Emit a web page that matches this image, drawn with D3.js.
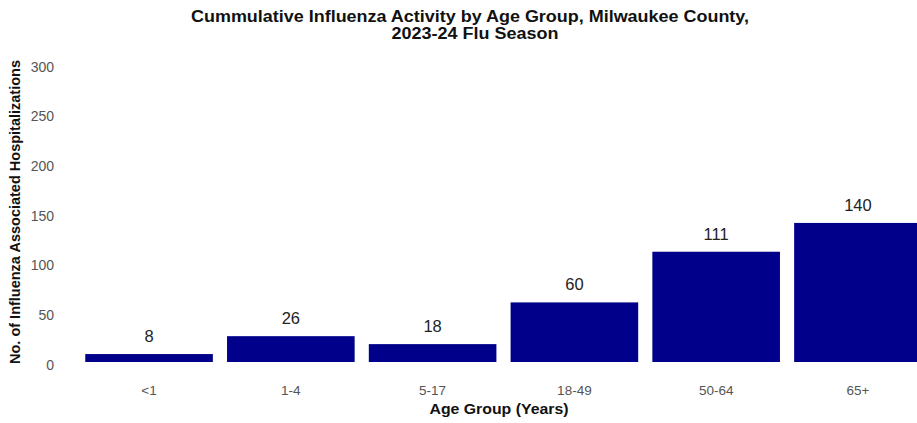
<!DOCTYPE html>
<html>
<head>
<meta charset="utf-8">
<script src="https://cdn.jsdelivr.net/npm/d3@7.9.0/dist/d3.min.js"></script>
<style>
  body { margin: 0; background: #fff; }
  svg { display: block; font-family: "Liberation Sans", Arial, sans-serif; }
</style>
</head>
<body>
<svg id="chart" width="917" height="423"></svg>
<script>
const ageGroups = ['<1', '1-4', '5-17', '18-49', '50-64', '65+'];
const hospitalizations = [8, 26, 18, 60, 111, 140];
const yTicks = [0, 50, 100, 150, 200, 250, 300];

const svg = d3.select('#chart');

// panel runs past the right edge of the picture, like the original
const x = d3.scaleBand().domain(ageGroups).range([64, 943]).paddingInner(0.1).paddingOuter(0.15);
const y = d3.scaleLinear().domain([0, 300]).range([362, 64]);

svg.selectAll('rect.bar')
  .data(hospitalizations)
  .join('rect')
  .attr('class', 'bar')
  .attr('x', (d, i) => x(ageGroups[i]))
  .attr('y', (d) => y(d))
  .attr('width', x.bandwidth())
  .attr('height', (d) => y(0) - y(d))
  .attr('fill', '#00008B');

svg.selectAll('text.value')
  .data(hospitalizations)
  .join('text')
  .attr('class', 'value')
  .attr('x', (d, i) => x(ageGroups[i]) + x.bandwidth() / 2)
  .attr('y', (d) => y(d) - 12)
  .attr('text-anchor', 'middle')
  .attr('font-size', 16.5)
  .attr('fill', '#222')
  .text((d) => d);

// y axis labels only (no lines)
const yAxis = svg.append('g')
  .attr('transform', 'translate(58,0)')
  .call(d3.axisLeft(y).tickValues(yTicks).tickSize(0).tickPadding(4));
yAxis.select('.domain').remove();
yAxis.selectAll('text')
  .attr('font-family', null)
  .attr('font-size', 14)
  .attr('fill', '#555')
  .attr('dy', '0.5em');

const xAxis = svg.append('g')
  .attr('transform', 'translate(0,385)')
  .call(d3.axisBottom(x).tickSize(0).tickPadding(0));
xAxis.select('.domain').remove();
xAxis.selectAll('text')
  .attr('font-family', null)
  .attr('font-size', 13.5)
  .attr('fill', '#555');

svg.append('text')
  .attr('x', 499)
  .attr('y', 414)
  .attr('text-anchor', 'middle')
  .attr('font-size', 15)
  .attr('font-weight', 'bold')
  .attr('fill', '#111')
  .attr('textLength', 139)
  .attr('lengthAdjust', 'spacingAndGlyphs')
  .text('Age Group (Years)');

svg.append('text')
  .attr('transform', 'translate(20,212) rotate(-90)')
  .attr('text-anchor', 'middle')
  .attr('font-size', 14.5)
  .attr('font-weight', 'bold')
  .attr('fill', '#111')
  .text('No. of Influenza Associated Hospitalizations');

const title = svg.append('text')
  .attr('text-anchor', 'middle')
  .attr('font-size', 16)
  .attr('font-weight', 'bold')
  .attr('fill', '#111');
title.append('tspan').attr('x', 470).attr('y', 22)
  .attr('textLength', 558).attr('lengthAdjust', 'spacingAndGlyphs')
  .text('Cummulative Influenza Activity by Age Group, Milwaukee County,');
title.append('tspan').attr('x', 475).attr('y', 39)
  .attr('textLength', 167).attr('lengthAdjust', 'spacingAndGlyphs')
  .text('2023-24 Flu Season');
</script>
</body>
</html>
